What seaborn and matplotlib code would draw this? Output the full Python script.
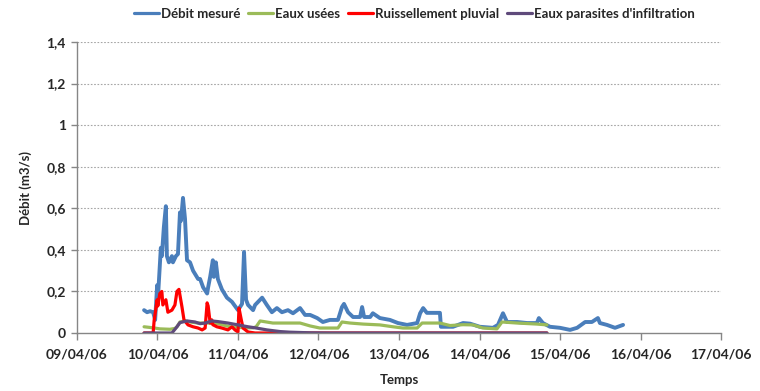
import numpy as np
import pandas as pd
import matplotlib
matplotlib.use("Agg")
import matplotlib.pyplot as plt
import matplotlib.dates as mdates
from matplotlib.ticker import FuncFormatter
import seaborn as sns

# Heures écoulées depuis le 09/04/06 00:00 et débits (m3/s)
debit_h = [20.0, 20.9, 21.8, 22.7, 23.3, 23.9, 24.1, 25.0, 25.3, 25.9, 26.5, 26.8,
           27.4, 28.3, 28.6, 29.5, 30.1, 30.7, 31.0, 31.6, 32.2, 32.8, 33.7, 34.6,
           36.1, 36.7, 37.6, 38.8, 39.1, 39.7, 40.2, 40.5, 40.8, 41.4, 42.0, 43.2,
           44.7, 46.2, 47.1, 48.0, 49.2, 49.8, 50.4, 51.0, 52.5, 53.1, 55.2, 56.6,
           58.1, 59.6, 61.1, 62.9, 64.4, 66.5, 68.0, 69.5, 71.6, 73.3, 75.4, 77.8,
           79.0, 79.6, 80.8, 82.3, 84.4, 85.0, 85.6, 87.4, 88.2, 90.3, 93.3, 95.7,
           98.4, 101.4, 102.3, 103.2, 104.3, 108.2, 108.5, 112.1, 115.1, 117.2,
           120.1, 124.0, 125.5, 127.0, 128.2, 131.2, 134.2, 137.1, 137.7, 138.9,
           141.0, 144.0, 147.0, 149.1, 151.5, 153.5, 155.3, 155.9, 158.0, 160.4,
           162.8]
debit_q = [0.11, 0.10, 0.105, 0.10, 0.063, 0.23, 0.16, 0.41, 0.37, 0.51, 0.61, 0.37,
           0.34, 0.37, 0.34, 0.37, 0.38, 0.58, 0.54, 0.65, 0.55, 0.35, 0.34, 0.30,
           0.26, 0.26, 0.22, 0.19, 0.22, 0.27, 0.32, 0.35, 0.27, 0.34, 0.26, 0.21,
           0.17, 0.15, 0.13, 0.11, 0.14, 0.39, 0.16, 0.135, 0.11, 0.135, 0.17, 0.135,
           0.10, 0.12, 0.10, 0.11, 0.095, 0.12, 0.087, 0.087, 0.072, 0.053, 0.063, 0.063,
           0.125, 0.14, 0.10, 0.077, 0.077, 0.125, 0.077, 0.077, 0.095, 0.072, 0.063, 0.048,
           0.039, 0.048, 0.095, 0.12, 0.097, 0.097, 0.03, 0.03, 0.048, 0.045,
           0.03, 0.025, 0.039, 0.095, 0.053, 0.053, 0.048, 0.048, 0.072, 0.048,
           0.03, 0.025, 0.015, 0.025, 0.053, 0.053, 0.072, 0.048, 0.039, 0.025,
           0.039]

usees_h = [20.0, 22.7, 24.7, 27.7, 29.2, 29.8, 30.7, 32.2, 33.7, 36.1, 38.8, 42.0,
           45.6, 50.1, 52.5, 53.4, 54.6, 58.4, 63.5, 66.5, 69.5, 72.4, 77.8, 79.0,
           81.4, 85.3, 90.3, 94.2, 97.2, 101.4, 102.9, 108.2, 111.2, 115.1, 118.1,
           121.0, 125.2, 126.7, 131.2, 137.1, 140.1]
usees_q = [0.03, 0.025, 0.02, 0.018, 0.022, 0.03, 0.053, 0.058, 0.053, 0.048, 0.048, 0.045,
           0.03, 0.025, 0.025, 0.03, 0.058, 0.048, 0.048, 0.048, 0.034, 0.024, 0.024, 0.053,
           0.048, 0.043, 0.039, 0.03, 0.024, 0.024, 0.048, 0.048, 0.036, 0.04, 0.039,
           0.024, 0.02, 0.053, 0.048, 0.043, 0.039]

pluvial_h = [20.0, 22.7, 23.0, 23.9, 24.1, 24.7, 25.3, 25.6, 26.5, 27.1, 28.3, 29.2,
             29.8, 30.4, 31.3, 31.9, 33.1, 34.6, 36.1, 37.3, 38.2, 38.8, 39.1, 39.7,
             40.2, 40.5, 41.7, 43.2, 45.0, 46.2, 47.1, 48.0, 48.3, 48.9, 49.5, 51.0,
             53.1, 140.1]
pluvial_q = [0.0, 0.0, 0.06, 0.16, 0.13, 0.19, 0.20, 0.135, 0.16, 0.10, 0.11, 0.135,
             0.20, 0.21, 0.125, 0.063, 0.039, 0.03, 0.024, 0.015, 0.024, 0.145, 0.13, 0.048,
             0.063, 0.04, 0.03, 0.024, 0.015, 0.03, 0.015, 0.005, 0.12, 0.07, 0.024, 0.005,
             0.0, 0.0]

infil_h = [20.0, 28.3, 29.8, 30.7, 32.8, 35.2, 36.7, 38.2, 40.2, 42.0, 45.0, 48.0,
           51.0, 53.1, 56.6, 60.5, 63.5, 69.5, 75.4, 140.1]
infil_q = [0.0, 0.0, 0.03, 0.05, 0.058, 0.053, 0.045, 0.048, 0.058, 0.055, 0.048, 0.039,
           0.03, 0.025, 0.015, 0.007, 0.004, 0.001, 0.0, 0.0]

series = ["Débit mesuré", "Eaux usées", "Ruissellement pluvial",
          "Eaux parasites d'infiltration"]
couleurs = ["#4A7EBB", "#9BBB59", "#FF0000", "#5F4A7B"]

origine = pd.Timestamp("2006-04-09")
frames = []
for nom, h, q in zip(series, [debit_h, usees_h, pluvial_h, infil_h],
                     [debit_q, usees_q, pluvial_q, infil_q]):
    frames.append(pd.DataFrame({
        "Temps": origine + pd.to_timedelta(h, unit="h"),
        "Débit": q,
        "Série": nom,
    }))
df = pd.concat(frames, ignore_index=True)

sns.set_theme(style="white")
plt.rcParams["font.family"] = ["Lato", "DejaVu Sans"]
plt.rcParams["font.weight"] = "bold"

fig = plt.figure(figsize=(7.6, 3.91), dpi=100)
ax = fig.add_axes([0.1013, 0.1483, 0.8474, 0.7443])

sns.lineplot(data=df, x="Temps", y="Débit", hue="Série", hue_order=series,
             palette=couleurs, estimator=None, sort=False, linewidth=2.3, ax=ax)
# courbe mesurée un peu plus épaisse
ax.get_lines()[0].set_linewidth(2.8)

gris = "#868686"
ax.set_xlim(pd.Timestamp("2006-04-09"), pd.Timestamp("2006-04-17"))
ax.set_ylim(0, 1.4)
ax.set_yticks(np.arange(0, 1.41, 0.2))
ax.yaxis.set_major_formatter(FuncFormatter(
    lambda v, _: ("%g" % round(v, 1)).replace(".", ",")))
ax.xaxis.set_major_locator(mdates.DayLocator())
ax.xaxis.set_major_formatter(mdates.DateFormatter("%d/%m/%y"))

for y in np.arange(0.2, 1.41, 0.2):
    ax.axhline(y, color="#A6A6A6", linestyle=(0, (1.5, 1.5)), linewidth=0.8, zorder=0)

for s in ["top", "right"]:
    ax.spines[s].set_visible(False)
for s in ["left", "bottom"]:
    ax.spines[s].set_color(gris)
    ax.spines[s].set_linewidth(1.0)

ax.tick_params(axis="x", direction="out", length=5, width=1, color=gris,
               labelsize=10, pad=6, bottom=True)
ax.tick_params(axis="y", direction="out", length=4, width=1, color=gris,
               labelsize=10, pad=4, left=True)
for lab in ax.get_xticklabels() + ax.get_yticklabels():
    lab.set_fontweight("bold")

ax.set_xlabel("Temps", fontsize=9.5, fontweight="bold", labelpad=10)
ax.set_ylabel("Débit (m3/s)", fontsize=9.5, fontweight="bold", labelpad=10)

handles, labels = ax.get_legend_handles_labels()
for h in handles:
    h.set_linewidth(2.3)
ax.legend(handles, labels, loc="center", bbox_to_anchor=(0.545, 0.964),
          bbox_transform=fig.transFigure, ncol=4, frameon=False,
          handlelength=1.9, handletextpad=0.15, columnspacing=0.6,
          prop={"weight": "bold", "size": 9.5})

fig.savefig("out.png", dpi=100)
